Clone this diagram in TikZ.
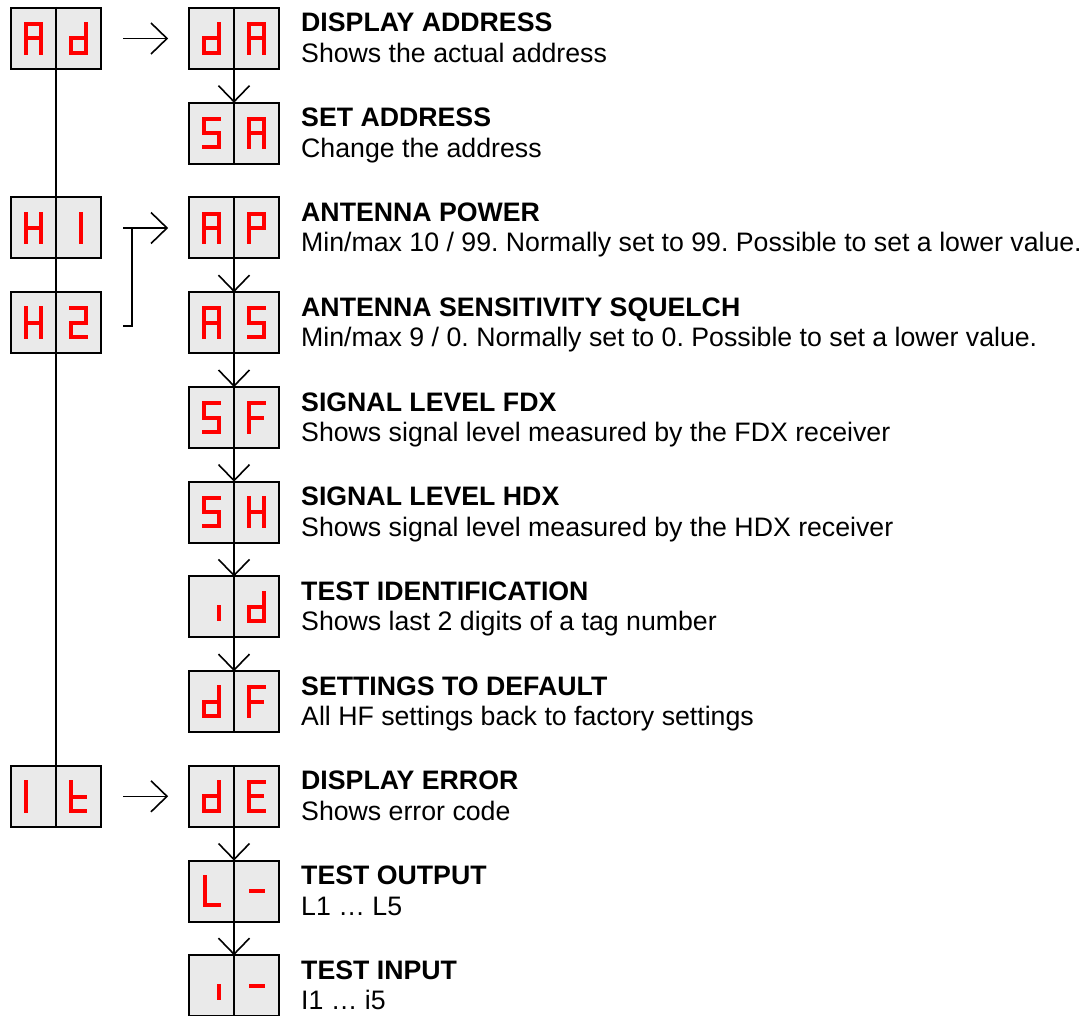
\documentclass[tikz,border=0pt]{standalone}
\usepackage{fontspec}
\setmainfont{Liberation Sans}
\usetikzlibrary{calc,arrows.meta}
\definecolor{boxgray}{RGB}{234,234,234}
\definecolor{segred}{RGB}{255,0,0}
\pgfdeclarearrow{
  name = OpenV,
  parameters = {\the\pgfarrowlength,\the\pgfarrowwidth},
  setup code = {
    \pgfarrowssettipend{0pt}
    \pgfarrowssetlineend{-0.5pt}
    \pgfarrowsupperhullpoint{-\pgfarrowlength}{.5\pgfarrowwidth}
    \pgfarrowshullpoint{0pt}{0pt}
    \pgfarrowssave\pgfarrowlength
    \pgfarrowssave\pgfarrowwidth
  },
  drawing code = {
    \pgfpathmoveto{\pgfqpoint{-\pgfarrowlength}{.5\pgfarrowwidth}}
    \pgfpathlineto{\pgfqpoint{0pt}{0pt}}
    \pgfpathlineto{\pgfqpoint{-\pgfarrowlength}{-.5\pgfarrowwidth}}
    \pgfusepathqstroke
  },
  defaults = {length = 16pt, width = 30pt}
}
\tikzset{
  dispbox/.style={draw=black, fill=boxgray, line width=2pt, minimum width=90pt, minimum height=61pt, inner sep=0pt},
  divider/.style={draw=black, line width=1.5pt},
  seg/.style={draw=segred, line width=4pt, line cap=rect, line join=miter},
  conn/.style={draw=black, line width=1.6pt, -{OpenV[length=16pt,width=31pt]}},
  plain/.style={draw=black, line width=1.6pt},
  trunk/.style={draw=black, line width=1.3pt},
  title/.style={anchor=base west, inner sep=0pt, font=\fontsize{26.7}{31}\selectfont\bfseries},
  desc/.style={anchor=base west, inner sep=0pt, font=\fontsize{26.7}{31}\selectfont},
}
\def\sw{7.7}
\def\sh{14.3}
% seven-segment characters (centre of cell at origin, y downwards)
\newcommand\chA{\draw[seg] (-\sw,\sh)--(-\sw,-\sh)--(\sw,-\sh)--(\sw,\sh) (-\sw,0)--(\sw,0);}
\newcommand\chd{\draw[seg] (\sw,-\sh)--(\sw,\sh)--(-\sw,\sh)--(-\sw,0)--(\sw,0);}
\newcommand\chS{\draw[seg] (\sw,-\sh)--(-\sw,-\sh)--(-\sw,0)--(\sw,0)--(\sw,\sh)--(-\sw,\sh);}
\newcommand\chH{\draw[seg] (-\sw,-\sh)--(-\sw,\sh) (\sw,-\sh)--(\sw,\sh) (-\sw,0)--(\sw,0);}
\newcommand\chone{\draw[seg] (2,-\sh)--(2,\sh);}
\newcommand\chI{\draw[seg] (-\sw,-\sh)--(-\sw,\sh);}
\newcommand\chtwo{\draw[seg] (-\sw,-\sh)--(\sw,-\sh)--(\sw,0)--(-\sw,0)--(-\sw,\sh)--(\sw,\sh);}
\newcommand\chP{\draw[seg] (-\sw,\sh)--(-\sw,-\sh)--(\sw,-\sh)--(\sw,0)--(-\sw,0);}
\newcommand\chF{\draw[seg] (\sw,-\sh)--(-\sw,-\sh)--(-\sw,\sh) (-\sw,0)--(5,0);}
\newcommand\chE{\draw[seg] (\sw,-\sh)--(-\sw,-\sh)--(-\sw,\sh)--(\sw,\sh) (-\sw,0)--(5,0);}
\newcommand\chsmalli{\draw[seg] (\sw,0)--(\sw,12);}
\newcommand\cht{\draw[seg] (-\sw,-\sh)--(-\sw,\sh)--(6,\sh) (-\sw,1)--(6,1);}
\newcommand\chL{\draw[seg] (-7,-\sh)--(-7,\sh)--(7,\sh);}
\newcommand\chdash{\draw[seg] (-6,0)--(6,0);}
% display box: name, left x, top y, left char, right char
\newcommand\dbox[5]{%
  \node[dispbox] (#1) at (#2+45,#3+30.5) {};
  \draw[divider] (#1.north) -- (#1.south);
  \begin{scope}[shift={(#2+22.5,#3+30.5)}] #4 \end{scope}
  \begin{scope}[shift={(#2+67.5,#3+30.5)}] #5 \end{scope}
}
% label pair: name, top y, title, description
\newcommand\lbl[4]{%
  \node[title] (#1t) at (301,#2+24) {#3};
  \node[desc] (#1d) at (301,#2+54.5) {#4};
}
\frenchspacing
\begin{document}
\begin{tikzpicture}[x=1pt,y=-1pt]
\useasboundingbox (0,0) rectangle (1081,1016);
% left column
\dbox{Ad}{11}{8}{\chA}{\chd}
\dbox{Hone}{11}{197.5}{\chH}{\chone}
\dbox{Htwo}{11}{292.2}{\chH}{\chtwo}
\dbox{It}{11}{765.8}{\chI}{\cht}
% middle column
\dbox{dA}{189}{8}{\chd}{\chA}
\dbox{SA}{189}{102.7}{\chS}{\chA}
\dbox{AP}{189}{197.5}{\chA}{\chP}
\dbox{AS}{189}{292.2}{\chA}{\chS}
\dbox{SF}{189}{387.0}{\chS}{\chF}
\dbox{SH}{189}{481.6}{\chS}{\chH}
\dbox{id}{189}{576.4}{\chsmalli}{\chd}
\dbox{dF}{189}{671.1}{\chd}{\chF}
\dbox{dE}{189}{765.8}{\chd}{\chE}
\dbox{Ldash}{189}{860.5}{\chL}{\chdash}
\dbox{idash}{189}{955.2}{\chsmalli}{\chdash}
% trunk line
\draw[trunk] (Ad.south) -- (Hone.north);
\draw[trunk] (Hone.south) -- (Htwo.north);
\draw[trunk] (Htwo.south) -- (It.north);
% horizontal arrows
\draw[conn] ([xshift=21pt]Ad.east) -- ([xshift=-21pt]dA.west);
\coordinate (hone) at ([xshift=21pt]Hone.east);
\coordinate (htwo) at ([xshift=21pt,yshift=-3pt]Htwo.east);
\coordinate (hjoin) at ([xshift=30pt]Hone.east);
\draw[conn] (hone) -- ([xshift=-21pt]AP.west);
\draw[plain] (htwo) -| (hjoin);
\draw[conn] ([xshift=21pt]It.east) -- ([xshift=-21pt]dE.west);
% vertical arrows
\draw[conn] (dA.south) -- (SA.north);
\draw[conn] (AP.south) -- (AS.north);
\draw[conn] (AS.south) -- (SF.north);
\draw[conn] (SF.south) -- (SH.north);
\draw[conn] (SH.south) -- (id.north);
\draw[conn] (id.south) -- (dF.north);
\draw[conn] (dE.south) -- (Ldash.north);
\draw[conn] (Ldash.south) -- (idash.north);
% labels
\lbl{a}{8}{DISPLAY ADDRESS}{Shows the actual address}
\lbl{b}{102.7}{SET ADDRESS}{Change the address}
\lbl{c}{197.5}{ANTENNA POWER}{Min/max 10 / 99. Normally set to 99. Possible to set a lower value.}
\lbl{e}{292.2}{ANTENNA SENSITIVITY SQUELCH}{Min/max 9 / 0. Normally set to 0. Possible to set a lower value.}
\lbl{f}{387.0}{SIGNAL LEVEL FDX}{Shows signal level measured by the FDX receiver}
\lbl{g}{481.6}{SIGNAL LEVEL HDX}{Shows signal level measured by the HDX receiver}
\lbl{h}{576.4}{TEST IDENTIFICATION}{Shows last 2 digits of a tag number}
\lbl{k}{671.1}{SETTINGS TO DEFAULT}{All HF settings back to factory settings}
\lbl{m}{765.8}{DISPLAY ERROR}{Shows error code}
\lbl{n}{860.5}{TEST OUTPUT}{L1 … L5}
\lbl{p}{955.2}{TEST INPUT}{I1 … i5}
\end{tikzpicture}
\end{document}
